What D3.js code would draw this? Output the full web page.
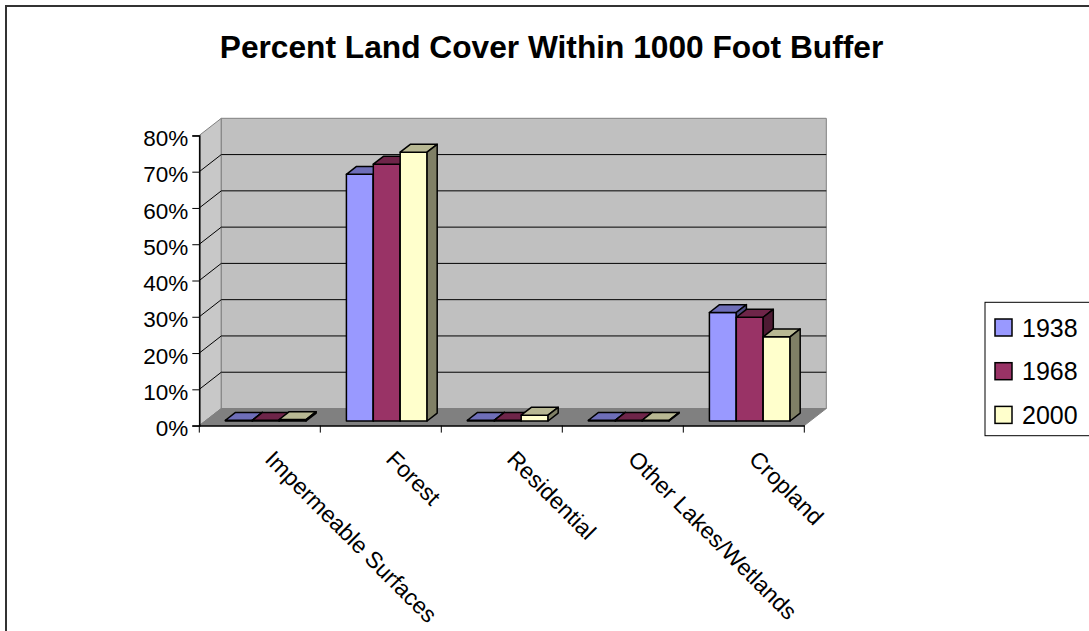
<!DOCTYPE html>
<html>
<head>
<meta charset="utf-8">
<script src="https://cdn.jsdelivr.net/npm/d3@7"></script>
<style>
  body { margin: 0; background: #fff; }
  text { font-family: "Liberation Sans", Arial, sans-serif; }
</style>
</head>
<body>
<div id="chart"></div>
<script>
// data (percent as fraction)
var categories = ["Impermeable Surfaces", "Forest", "Residential", "Other Lakes/Wetlands", "Cropland"];
var years = ["1938", "1968", "2000"];
var values1938 = [0.002, 0.680, 0.002, 0.002, 0.299];
var values1968 = [0.002, 0.708, 0.002, 0.002, 0.286];
var values2000 = [0.004, 0.741, 0.016, 0.002, 0.232];
var yTicks = [0, 0.1, 0.2, 0.3, 0.4, 0.5, 0.6, 0.7, 0.8];
var colors = ["#9999FF", "#993366", "#FFFFCC"];

var W = 1089, H = 631;
var plotL = 199.3, plotR = 804.3, plotT = 135.4, plotB = 425.6;
var depth = [22, -17.1];      // oblique offset of the back wall
var barFront = 0.27, barBack = 0.73;

var svg = d3.select("#chart").append("svg")
    .attr("width", W).attr("height", H);

// chart frame
svg.append("rect")
    .attr("x", 6).attr("y", 6).attr("width", 1100).attr("height", 650)
    .attr("fill", "#fff").attr("stroke", "#333").attr("stroke-width", 2);

svg.append("text")
    .attr("x", 551.5).attr("y", 58)
    .attr("text-anchor", "middle")
    .style("font-size", "31.7px").style("font-weight", "bold")
    .text("Percent Land Cover Within 1000 Foot Buffer");

var x0 = d3.scaleBand().domain(categories).range([plotL, plotR]).padding(0);
var x1 = d3.scaleBand().domain(years).range([0, x0.bandwidth()])
    .paddingInner(0).paddingOuter(0.75);
var y = d3.scaleLinear().domain([0, 0.8]).range([plotB, plotT]);

function pt(x, yy, f) {
  return [x + f * depth[0], yy + f * depth[1]];
}
function poly(pts) {
  return pts.map(function(p) { return p[0].toFixed(2) + "," + p[1].toFixed(2); }).join(" ");
}

// walls and floor
var y0 = y(0), yTop = y(0.8);
svg.append("polygon")
    .attr("points", poly([[plotL, y0], [plotL, yTop], pt(plotL, yTop, 1), pt(plotL, y0, 1)]))
    .attr("fill", "#C8C8C8").attr("stroke", "#808080");
svg.append("polygon")
    .attr("points", poly([pt(plotL, yTop, 1), pt(plotR, yTop, 1), pt(plotR, y0, 1), pt(plotL, y0, 1)]))
    .attr("fill", "#C0C0C0").attr("stroke", "#808080");
svg.append("polygon")
    .attr("points", poly([[plotL, y0], [plotR, y0], pt(plotR, y0, 1), pt(plotL, y0, 1)]))
    .attr("fill", "#808080").attr("stroke", "#808080");

// gridlines on left and back wall
var grid = svg.append("g").attr("class", "grid");
yTicks.filter(function(d) { return d > 0 && d < 0.8; }).forEach(function(d) {
  var a = [plotL, y(d)], b = pt(plotL, y(d), 1), c = pt(plotR, y(d), 1);
  grid.append("polyline")
      .attr("points", poly([a, b, c]))
      .attr("fill", "none").attr("stroke", "#000").attr("stroke-width", 1);
});

// y axis
var yAxis = svg.append("g")
    .attr("transform", "translate(" + plotL + ",0)")
    .call(d3.axisLeft(y).tickValues(yTicks).tickFormat(d3.format(".0%")).tickSize(7).tickPadding(4));
yAxis.select(".domain").attr("stroke", "#000").attr("stroke-width", 1.5);
yAxis.selectAll("text").style("font-size", "22.5px").attr("dy", "0.45em").attr("fill", "#000");

// x axis line with ticks between categories
var xAxis = svg.append("g")
    .attr("transform", "translate(0," + y0 + ")")
    .call(d3.axisBottom(x0).tickSize(0).tickPadding(0));
xAxis.select(".domain").attr("stroke", "#000").attr("stroke-width", 1.5);
xAxis.selectAll(".tick text")
    .style("font-size", "23px")
    .attr("text-anchor", "start")
    .attr("dy", null)
    .attr("transform", "translate(4,35) rotate(45)");
var bounds = categories.map(function(c) { return x0(c); }).concat([plotR]);
xAxis.selectAll(".bound").data(bounds).enter().append("line")
    .attr("x1", function(d) { return d; }).attr("x2", function(d) { return d; })
    .attr("y1", 0).attr("y2", 7)
    .attr("stroke", "#000").attr("stroke-width", 1);

// 3d bars
function shade(c, k) {
  var col = d3.rgb(c);
  return d3.rgb(col.r * k, col.g * k, col.b * k).formatHex();
}
var series = [values1938, values1968, values2000];
var bars = svg.append("g").attr("class", "bars");
categories.forEach(function(cat, i) {
  years.forEach(function(yr, j) {
    var v = series[j][i];
    var xl = x0(cat) + x1(yr), xr = xl + x1.bandwidth();
    var yb = y(0), yt = y(v);
    var fl = pt(xl, yb, barFront), fr = pt(xr, yb, barFront);
    var tl = pt(xl, yt, barFront), tr = pt(xr, yt, barFront);
    var btl = pt(xl, yt, barBack), btr = pt(xr, yt, barBack), bbr = pt(xr, yb, barBack);
    var g = bars.append("g");
    g.append("polygon").attr("points", poly([tl, tr, fr, fl]))
        .attr("fill", colors[j]).attr("stroke", "#000").attr("stroke-width", 1.5)
        .attr("stroke-linejoin", "round");
    g.append("polygon").attr("points", poly([tl, btl, btr, tr]))
        .attr("fill", shade(colors[j], 0.72)).attr("stroke", "#000").attr("stroke-width", 1.5)
        .attr("stroke-linejoin", "round");
    g.append("polygon").attr("points", poly([tr, btr, bbr, fr]))
        .attr("fill", shade(colors[j], 0.5)).attr("stroke", "#000").attr("stroke-width", 1.5)
        .attr("stroke-linejoin", "round");
  });
});

// legend
var legend = svg.append("g");
legend.append("rect")
    .attr("x", 985).attr("y", 302.3).attr("width", 130).attr("height", 133.4)
    .attr("fill", "#fff").attr("stroke", "#000").attr("stroke-width", 1);
years.forEach(function(yr, j) {
  var cy = 327.5 + j * 43.7;
  legend.append("rect")
      .attr("x", 995).attr("y", cy - 8.5).attr("width", 17).attr("height", 17)
      .attr("fill", colors[j]).attr("stroke", "#000").attr("stroke-width", 1.5);
  legend.append("text")
      .attr("x", 1022).attr("y", cy).attr("dy", "0.36em")
      .style("font-size", "25px")
      .text(yr);
});
</script>
</body>
</html>
